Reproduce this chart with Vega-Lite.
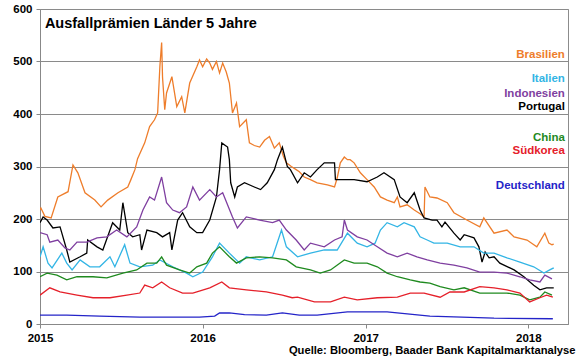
{
  "$schema": "https://vega.github.io/schema/vega-lite/v6.json",
  "width": 528,
  "height": 315,
  "autosize": {"type": "none"},
  "padding": {"left": 40, "top": 9, "right": 12, "bottom": 34},
  "background": "white",
  "config": {
    "font": "Liberation Sans",
    "view": {"stroke": "#8c8c8c", "strokeWidth": 1}
  },
  "datasets": {
    "series": [
      {"d":"2015-01-01","s":"Brasilien","v":217},{"d":"2015-01-03","s":"Brasilien","v":221},{"d":"2015-01-12","s":"Brasilien","v":205},{"d":"2015-01-26","s":"Brasilien","v":202},{"d":"2015-02-10","s":"Brasilien","v":242},{"d":"2015-03-05","s":"Brasilien","v":252},{"d":"2015-03-16","s":"Brasilien","v":303},{"d":"2015-03-27","s":"Brasilien","v":288},{"d":"2015-04-12","s":"Brasilien","v":250},{"d":"2015-05-04","s":"Brasilien","v":236},{"d":"2015-05-18","s":"Brasilien","v":223},{"d":"2015-06-02","s":"Brasilien","v":236},{"d":"2015-06-25","s":"Brasilien","v":250},{"d":"2015-07-17","s":"Brasilien","v":261},{"d":"2015-07-24","s":"Brasilien","v":275},{"d":"2015-08-02","s":"Brasilien","v":294},{"d":"2015-08-08","s":"Brasilien","v":315},{"d":"2015-08-24","s":"Brasilien","v":345},{"d":"2015-09-04","s":"Brasilien","v":376},{"d":"2015-09-15","s":"Brasilien","v":389},{"d":"2015-09-22","s":"Brasilien","v":402},{"d":"2015-09-27","s":"Brasilien","v":490},{"d":"2015-10-01","s":"Brasilien","v":536},{"d":"2015-10-03","s":"Brasilien","v":470},{"d":"2015-10-08","s":"Brasilien","v":408},{"d":"2015-10-12","s":"Brasilien","v":440},{"d":"2015-10-24","s":"Brasilien","v":471},{"d":"2015-11-04","s":"Brasilien","v":414},{"d":"2015-11-15","s":"Brasilien","v":433},{"d":"2015-11-22","s":"Brasilien","v":402},{"d":"2015-12-03","s":"Brasilien","v":459},{"d":"2015-12-19","s":"Brasilien","v":490},{"d":"2015-12-25","s":"Brasilien","v":503},{"d":"2016-01-01","s":"Brasilien","v":490},{"d":"2016-01-10","s":"Brasilien","v":505},{"d":"2016-01-17","s":"Brasilien","v":497},{"d":"2016-01-23","s":"Brasilien","v":485},{"d":"2016-02-01","s":"Brasilien","v":500},{"d":"2016-02-08","s":"Brasilien","v":478},{"d":"2016-02-15","s":"Brasilien","v":497},{"d":"2016-02-23","s":"Brasilien","v":480},{"d":"2016-03-01","s":"Brasilien","v":459},{"d":"2016-03-08","s":"Brasilien","v":402},{"d":"2016-03-17","s":"Brasilien","v":421},{"d":"2016-03-24","s":"Brasilien","v":376},{"d":"2016-04-08","s":"Brasilien","v":389},{"d":"2016-04-15","s":"Brasilien","v":345},{"d":"2016-04-26","s":"Brasilien","v":340},{"d":"2016-05-08","s":"Brasilien","v":337},{"d":"2016-05-19","s":"Brasilien","v":350},{"d":"2016-05-30","s":"Brasilien","v":357},{"d":"2016-06-10","s":"Brasilien","v":335},{"d":"2016-06-21","s":"Brasilien","v":345},{"d":"2016-06-30","s":"Brasilien","v":320},{"d":"2016-07-07","s":"Brasilien","v":307},{"d":"2016-07-18","s":"Brasilien","v":300},{"d":"2016-07-29","s":"Brasilien","v":294},{"d":"2016-08-05","s":"Brasilien","v":290},{"d":"2016-08-16","s":"Brasilien","v":280},{"d":"2016-08-30","s":"Brasilien","v":275},{"d":"2016-09-14","s":"Brasilien","v":269},{"d":"2016-10-07","s":"Brasilien","v":265},{"d":"2016-10-23","s":"Brasilien","v":261},{"d":"2016-10-29","s":"Brasilien","v":278},{"d":"2016-11-05","s":"Brasilien","v":307},{"d":"2016-11-14","s":"Brasilien","v":318},{"d":"2016-11-21","s":"Brasilien","v":313},{"d":"2016-11-27","s":"Brasilien","v":313},{"d":"2016-12-06","s":"Brasilien","v":307},{"d":"2016-12-20","s":"Brasilien","v":288},{"d":"2017-01-04","s":"Brasilien","v":275},{"d":"2017-01-20","s":"Brasilien","v":261},{"d":"2017-02-03","s":"Brasilien","v":242},{"d":"2017-02-18","s":"Brasilien","v":236},{"d":"2017-03-06","s":"Brasilien","v":231},{"d":"2017-03-13","s":"Brasilien","v":242},{"d":"2017-03-19","s":"Brasilien","v":223},{"d":"2017-04-04","s":"Brasilien","v":227},{"d":"2017-04-20","s":"Brasilien","v":217},{"d":"2017-05-03","s":"Brasilien","v":210},{"d":"2017-05-12","s":"Brasilien","v":204},{"d":"2017-05-14","s":"Brasilien","v":261},{"d":"2017-05-25","s":"Brasilien","v":242},{"d":"2017-06-10","s":"Brasilien","v":240},{"d":"2017-07-03","s":"Brasilien","v":231},{"d":"2017-07-18","s":"Brasilien","v":212},{"d":"2017-08-16","s":"Brasilien","v":198},{"d":"2017-09-14","s":"Brasilien","v":185},{"d":"2017-09-23","s":"Brasilien","v":202},{"d":"2017-10-16","s":"Brasilien","v":173},{"d":"2017-11-14","s":"Brasilien","v":179},{"d":"2017-11-30","s":"Brasilien","v":166},{"d":"2017-12-29","s":"Brasilien","v":160},{"d":"2018-01-20","s":"Brasilien","v":147},{"d":"2018-02-07","s":"Brasilien","v":173},{"d":"2018-02-16","s":"Brasilien","v":154},{"d":"2018-02-23","s":"Brasilien","v":151},{"d":"2018-02-27","s":"Brasilien","v":152},

      {"d":"2015-01-01","s":"Portugal","v":193},{"d":"2015-01-08","s":"Portugal","v":204},{"d":"2015-01-17","s":"Portugal","v":198},{"d":"2015-01-30","s":"Portugal","v":183},{"d":"2015-02-15","s":"Portugal","v":185},{"d":"2015-03-02","s":"Portugal","v":141},{"d":"2015-03-09","s":"Portugal","v":118},{"d":"2015-04-01","s":"Portugal","v":128},{"d":"2015-04-16","s":"Portugal","v":135},{"d":"2015-04-18","s":"Portugal","v":160},{"d":"2015-05-09","s":"Portugal","v":147},{"d":"2015-05-22","s":"Portugal","v":141},{"d":"2015-06-13","s":"Portugal","v":193},{"d":"2015-06-29","s":"Portugal","v":179},{"d":"2015-07-06","s":"Portugal","v":231},{"d":"2015-07-17","s":"Portugal","v":174},{"d":"2015-07-28","s":"Portugal","v":166},{"d":"2015-08-13","s":"Portugal","v":170},{"d":"2015-08-17","s":"Portugal","v":141},{"d":"2015-08-29","s":"Portugal","v":179},{"d":"2015-09-20","s":"Portugal","v":174},{"d":"2015-10-03","s":"Portugal","v":166},{"d":"2015-10-19","s":"Portugal","v":174},{"d":"2015-10-24","s":"Portugal","v":141},{"d":"2015-11-06","s":"Portugal","v":198},{"d":"2015-11-17","s":"Portugal","v":212},{"d":"2015-12-03","s":"Portugal","v":185},{"d":"2015-12-19","s":"Portugal","v":174},{"d":"2016-01-01","s":"Portugal","v":174},{"d":"2016-01-17","s":"Portugal","v":198},{"d":"2016-02-01","s":"Portugal","v":242},{"d":"2016-02-08","s":"Portugal","v":294},{"d":"2016-02-13","s":"Portugal","v":345},{"d":"2016-02-21","s":"Portugal","v":340},{"d":"2016-02-26","s":"Portugal","v":337},{"d":"2016-03-01","s":"Portugal","v":313},{"d":"2016-03-04","s":"Portugal","v":269},{"d":"2016-03-13","s":"Portugal","v":242},{"d":"2016-03-19","s":"Portugal","v":261},{"d":"2016-04-04","s":"Portugal","v":269},{"d":"2016-04-26","s":"Portugal","v":261},{"d":"2016-05-10","s":"Portugal","v":256},{"d":"2016-05-25","s":"Portugal","v":269},{"d":"2016-06-10","s":"Portugal","v":294},{"d":"2016-06-17","s":"Portugal","v":313},{"d":"2016-06-28","s":"Portugal","v":337},{"d":"2016-07-09","s":"Portugal","v":300},{"d":"2016-07-16","s":"Portugal","v":294},{"d":"2016-08-01","s":"Portugal","v":269},{"d":"2016-08-16","s":"Portugal","v":288},{"d":"2016-08-30","s":"Portugal","v":280},{"d":"2016-09-14","s":"Portugal","v":294},{"d":"2016-09-30","s":"Portugal","v":307},{"d":"2016-10-23","s":"Portugal","v":307},{"d":"2016-10-25","s":"Portugal","v":275},{"d":"2016-12-06","s":"Portugal","v":275},{"d":"2017-01-04","s":"Portugal","v":271},{"d":"2017-01-27","s":"Portugal","v":280},{"d":"2017-02-11","s":"Portugal","v":288},{"d":"2017-03-06","s":"Portugal","v":275},{"d":"2017-03-19","s":"Portugal","v":242},{"d":"2017-04-04","s":"Portugal","v":231},{"d":"2017-04-20","s":"Portugal","v":250},{"d":"2017-05-03","s":"Portugal","v":217},{"d":"2017-05-12","s":"Portugal","v":202},{"d":"2017-05-30","s":"Portugal","v":198},{"d":"2017-06-10","s":"Portugal","v":198},{"d":"2017-06-21","s":"Portugal","v":185},{"d":"2017-06-28","s":"Portugal","v":194},{"d":"2017-07-18","s":"Portugal","v":173},{"d":"2017-08-01","s":"Portugal","v":160},{"d":"2017-08-10","s":"Portugal","v":170},{"d":"2017-09-01","s":"Portugal","v":164},{"d":"2017-09-12","s":"Portugal","v":147},{"d":"2017-09-19","s":"Portugal","v":118},{"d":"2017-09-26","s":"Portugal","v":137},{"d":"2017-10-05","s":"Portugal","v":126},{"d":"2017-10-16","s":"Portugal","v":128},{"d":"2017-10-29","s":"Portugal","v":116},{"d":"2017-11-30","s":"Portugal","v":103},{"d":"2017-12-22","s":"Portugal","v":90},{"d":"2018-01-13","s":"Portugal","v":74},{"d":"2018-01-27","s":"Portugal","v":65},{"d":"2018-02-11","s":"Portugal","v":69},{"d":"2018-02-27","s":"Portugal","v":69},

      {"d":"2015-01-01","s":"Italien","v":128},{"d":"2015-01-08","s":"Italien","v":147},{"d":"2015-01-19","s":"Italien","v":116},{"d":"2015-01-28","s":"Italien","v":107},{"d":"2015-02-19","s":"Italien","v":135},{"d":"2015-03-02","s":"Italien","v":116},{"d":"2015-03-14","s":"Italien","v":103},{"d":"2015-04-01","s":"Italien","v":122},{"d":"2015-04-23","s":"Italien","v":109},{"d":"2015-05-15","s":"Italien","v":109},{"d":"2015-06-07","s":"Italien","v":128},{"d":"2015-06-18","s":"Italien","v":109},{"d":"2015-07-10","s":"Italien","v":151},{"d":"2015-07-22","s":"Italien","v":116},{"d":"2015-08-13","s":"Italien","v":109},{"d":"2015-09-11","s":"Italien","v":112},{"d":"2015-09-27","s":"Italien","v":122},{"d":"2015-10-26","s":"Italien","v":109},{"d":"2015-11-26","s":"Italien","v":97},{"d":"2015-12-10","s":"Italien","v":90},{"d":"2016-01-01","s":"Italien","v":99},{"d":"2016-01-23","s":"Italien","v":128},{"d":"2016-02-08","s":"Italien","v":154},{"d":"2016-03-01","s":"Italien","v":135},{"d":"2016-03-24","s":"Italien","v":116},{"d":"2016-04-08","s":"Italien","v":128},{"d":"2016-05-08","s":"Italien","v":122},{"d":"2016-06-06","s":"Italien","v":128},{"d":"2016-06-26","s":"Italien","v":179},{"d":"2016-07-07","s":"Italien","v":147},{"d":"2016-08-01","s":"Italien","v":128},{"d":"2016-08-30","s":"Italien","v":135},{"d":"2016-09-30","s":"Italien","v":141},{"d":"2016-10-29","s":"Italien","v":141},{"d":"2016-11-21","s":"Italien","v":173},{"d":"2016-12-13","s":"Italien","v":154},{"d":"2017-01-04","s":"Italien","v":147},{"d":"2017-01-22","s":"Italien","v":154},{"d":"2017-02-03","s":"Italien","v":179},{"d":"2017-02-18","s":"Italien","v":193},{"d":"2017-03-13","s":"Italien","v":185},{"d":"2017-03-28","s":"Italien","v":193},{"d":"2017-04-20","s":"Italien","v":185},{"d":"2017-05-03","s":"Italien","v":166},{"d":"2017-05-19","s":"Italien","v":160},{"d":"2017-06-03","s":"Italien","v":154},{"d":"2017-07-03","s":"Italien","v":154},{"d":"2017-08-01","s":"Italien","v":147},{"d":"2017-09-01","s":"Italien","v":147},{"d":"2017-09-23","s":"Italien","v":135},{"d":"2017-10-16","s":"Italien","v":135},{"d":"2017-11-14","s":"Italien","v":126},{"d":"2017-12-13","s":"Italien","v":118},{"d":"2018-01-13","s":"Italien","v":109},{"d":"2018-02-05","s":"Italien","v":97},{"d":"2018-02-18","s":"Italien","v":103},{"d":"2018-02-27","s":"Italien","v":107},

      {"d":"2015-01-01","s":"Indonesien","v":174},{"d":"2015-01-17","s":"Indonesien","v":170},{"d":"2015-01-23","s":"Indonesien","v":156},{"d":"2015-02-10","s":"Indonesien","v":160},{"d":"2015-02-26","s":"Indonesien","v":145},{"d":"2015-03-09","s":"Indonesien","v":141},{"d":"2015-03-25","s":"Indonesien","v":156},{"d":"2015-04-16","s":"Indonesien","v":156},{"d":"2015-05-09","s":"Indonesien","v":164},{"d":"2015-05-31","s":"Indonesien","v":166},{"d":"2015-06-22","s":"Indonesien","v":179},{"d":"2015-07-15","s":"Indonesien","v":166},{"d":"2015-08-06","s":"Indonesien","v":185},{"d":"2015-08-20","s":"Indonesien","v":217},{"d":"2015-09-04","s":"Indonesien","v":242},{"d":"2015-09-15","s":"Indonesien","v":236},{"d":"2015-10-01","s":"Indonesien","v":280},{"d":"2015-10-12","s":"Indonesien","v":231},{"d":"2015-10-26","s":"Indonesien","v":217},{"d":"2015-11-10","s":"Indonesien","v":212},{"d":"2015-11-26","s":"Indonesien","v":223},{"d":"2015-12-10","s":"Indonesien","v":261},{"d":"2015-12-25","s":"Indonesien","v":236},{"d":"2016-01-17","s":"Indonesien","v":256},{"d":"2016-02-01","s":"Indonesien","v":242},{"d":"2016-02-15","s":"Indonesien","v":250},{"d":"2016-03-08","s":"Indonesien","v":204},{"d":"2016-03-19","s":"Indonesien","v":183},{"d":"2016-04-08","s":"Indonesien","v":204},{"d":"2016-05-08","s":"Indonesien","v":198},{"d":"2016-06-06","s":"Indonesien","v":193},{"d":"2016-06-21","s":"Indonesien","v":198},{"d":"2016-07-07","s":"Indonesien","v":179},{"d":"2016-07-29","s":"Indonesien","v":160},{"d":"2016-08-16","s":"Indonesien","v":141},{"d":"2016-08-30","s":"Indonesien","v":154},{"d":"2016-09-30","s":"Indonesien","v":147},{"d":"2016-10-23","s":"Indonesien","v":160},{"d":"2016-11-09","s":"Indonesien","v":166},{"d":"2016-11-14","s":"Indonesien","v":198},{"d":"2016-11-21","s":"Indonesien","v":179},{"d":"2016-12-13","s":"Indonesien","v":166},{"d":"2017-01-04","s":"Indonesien","v":160},{"d":"2017-01-27","s":"Indonesien","v":147},{"d":"2017-02-18","s":"Indonesien","v":135},{"d":"2017-03-13","s":"Indonesien","v":128},{"d":"2017-04-04","s":"Indonesien","v":135},{"d":"2017-04-26","s":"Indonesien","v":128},{"d":"2017-05-19","s":"Indonesien","v":122},{"d":"2017-06-17","s":"Indonesien","v":116},{"d":"2017-07-18","s":"Indonesien","v":112},{"d":"2017-08-16","s":"Indonesien","v":107},{"d":"2017-09-14","s":"Indonesien","v":99},{"d":"2017-10-16","s":"Indonesien","v":99},{"d":"2017-11-14","s":"Indonesien","v":97},{"d":"2017-12-13","s":"Indonesien","v":90},{"d":"2018-01-04","s":"Indonesien","v":84},{"d":"2018-01-27","s":"Indonesien","v":80},{"d":"2018-02-07","s":"Indonesien","v":93},{"d":"2018-02-23","s":"Indonesien","v":86},

      {"d":"2015-01-01","s":"China","v":90},{"d":"2015-01-17","s":"China","v":97},{"d":"2015-02-08","s":"China","v":93},{"d":"2015-03-02","s":"China","v":84},{"d":"2015-03-25","s":"China","v":90},{"d":"2015-04-30","s":"China","v":90},{"d":"2015-05-31","s":"China","v":88},{"d":"2015-07-06","s":"China","v":97},{"d":"2015-08-06","s":"China","v":103},{"d":"2015-08-29","s":"China","v":116},{"d":"2015-09-20","s":"China","v":116},{"d":"2015-10-01","s":"China","v":128},{"d":"2015-10-12","s":"China","v":112},{"d":"2015-11-10","s":"China","v":103},{"d":"2015-12-03","s":"China","v":97},{"d":"2015-12-19","s":"China","v":109},{"d":"2016-01-10","s":"China","v":116},{"d":"2016-01-23","s":"China","v":135},{"d":"2016-02-08","s":"China","v":147},{"d":"2016-03-01","s":"China","v":128},{"d":"2016-03-17","s":"China","v":116},{"d":"2016-04-08","s":"China","v":126},{"d":"2016-05-08","s":"China","v":128},{"d":"2016-06-06","s":"China","v":126},{"d":"2016-07-07","s":"China","v":122},{"d":"2016-07-29","s":"China","v":109},{"d":"2016-08-30","s":"China","v":103},{"d":"2016-09-21","s":"China","v":97},{"d":"2016-10-14","s":"China","v":103},{"d":"2016-11-14","s":"China","v":122},{"d":"2016-12-06","s":"China","v":116},{"d":"2017-01-04","s":"China","v":116},{"d":"2017-01-27","s":"China","v":109},{"d":"2017-02-18","s":"China","v":97},{"d":"2017-03-13","s":"China","v":90},{"d":"2017-04-11","s":"China","v":84},{"d":"2017-05-03","s":"China","v":80},{"d":"2017-05-25","s":"China","v":78},{"d":"2017-06-17","s":"China","v":71},{"d":"2017-07-18","s":"China","v":65},{"d":"2017-08-10","s":"China","v":69},{"d":"2017-09-14","s":"China","v":59},{"d":"2017-10-16","s":"China","v":59},{"d":"2017-11-14","s":"China","v":59},{"d":"2017-12-13","s":"China","v":55},{"d":"2018-01-04","s":"China","v":46},{"d":"2018-01-27","s":"China","v":51},{"d":"2018-02-07","s":"China","v":61},{"d":"2018-02-23","s":"China","v":55},

      {"d":"2015-01-01","s":"Südkorea","v":55},{"d":"2015-01-23","s":"Südkorea","v":69},{"d":"2015-02-15","s":"Südkorea","v":61},{"d":"2015-03-25","s":"Südkorea","v":55},{"d":"2015-04-30","s":"Südkorea","v":50},{"d":"2015-06-07","s":"Südkorea","v":50},{"d":"2015-07-15","s":"Südkorea","v":55},{"d":"2015-08-13","s":"Südkorea","v":59},{"d":"2015-08-24","s":"Südkorea","v":74},{"d":"2015-09-11","s":"Südkorea","v":69},{"d":"2015-10-01","s":"Südkorea","v":80},{"d":"2015-10-19","s":"Südkorea","v":69},{"d":"2015-11-17","s":"Südkorea","v":59},{"d":"2015-12-10","s":"Südkorea","v":59},{"d":"2016-01-17","s":"Südkorea","v":69},{"d":"2016-02-13","s":"Südkorea","v":80},{"d":"2016-03-01","s":"Südkorea","v":69},{"d":"2016-04-08","s":"Südkorea","v":65},{"d":"2016-05-23","s":"Südkorea","v":61},{"d":"2016-06-28","s":"Südkorea","v":55},{"d":"2016-07-20","s":"Südkorea","v":50},{"d":"2016-08-01","s":"Südkorea","v":51},{"d":"2016-09-08","s":"Südkorea","v":42},{"d":"2016-10-14","s":"Südkorea","v":42},{"d":"2016-11-14","s":"Südkorea","v":51},{"d":"2016-12-13","s":"Südkorea","v":46},{"d":"2017-01-27","s":"Südkorea","v":50},{"d":"2017-03-13","s":"Südkorea","v":51},{"d":"2017-04-11","s":"Südkorea","v":59},{"d":"2017-05-12","s":"Südkorea","v":59},{"d":"2017-06-17","s":"Südkorea","v":51},{"d":"2017-07-09","s":"Südkorea","v":61},{"d":"2017-08-10","s":"Südkorea","v":61},{"d":"2017-09-14","s":"Südkorea","v":71},{"d":"2017-10-16","s":"Südkorea","v":69},{"d":"2017-11-14","s":"Südkorea","v":65},{"d":"2017-12-13","s":"Südkorea","v":59},{"d":"2018-01-04","s":"Südkorea","v":42},{"d":"2018-01-27","s":"Südkorea","v":50},{"d":"2018-02-11","s":"Südkorea","v":55},{"d":"2018-02-25","s":"Südkorea","v":51},

      {"d":"2015-01-01","s":"Deutschland","v":17},{"d":"2015-03-02","s":"Deutschland","v":17},{"d":"2015-05-15","s":"Deutschland","v":15},{"d":"2015-08-13","s":"Deutschland","v":13},{"d":"2015-12-25","s":"Deutschland","v":13},{"d":"2016-01-28","s":"Deutschland","v":15},{"d":"2016-02-08","s":"Deutschland","v":21},{"d":"2016-03-01","s":"Deutschland","v":21},{"d":"2016-04-04","s":"Deutschland","v":18},{"d":"2016-05-23","s":"Deutschland","v":17},{"d":"2016-06-28","s":"Deutschland","v":21},{"d":"2016-08-05","s":"Deutschland","v":17},{"d":"2016-09-14","s":"Deutschland","v":17},{"d":"2016-11-21","s":"Deutschland","v":23},{"d":"2017-02-18","s":"Deutschland","v":23},{"d":"2017-05-25","s":"Deutschland","v":15},{"d":"2017-10-16","s":"Deutschland","v":11},{"d":"2018-02-25","s":"Deutschland","v":10}
    ],
    "labels": [
      {"d":"2018-03-24","v":512,"s":"Brasilien"},
      {"d":"2018-03-24","v":467,"s":"Italien"},
      {"d":"2018-03-24","v":438,"s":"Indonesien"},
      {"d":"2018-03-24","v":413,"s":"Portugal"},
      {"d":"2018-03-24","v":354,"s":"China"},
      {"d":"2018-03-24","v":330,"s":"Südkorea"},
      {"d":"2018-03-24","v":263,"s":"Deutschland"}
    ],
    "heading": [
      {"d":"2015-01-12","v":571,"t":"Ausfallprämien Länder 5 Jahre"}
    ]
  },
  "encoding": {
    "x": {
      "field": "d",
      "type": "temporal",
      "scale": {"type": "utc", "domain": [{"year": 2015, "month": 1, "date": 1, "utc": true}, {"year": 2018, "month": 3, "date": 31, "utc": true}]},
      "axis": {
        "title": "Quelle: Bloomberg, Baader Bank Kapitalmarktanalyse",
        "titleFontSize": 11.2,
        "titleFontWeight": "bold",
        "titleColor": "#000000",
        "titleAnchor": "end",
        "titleAlign": "right",
        "titleBaseline": "middle",
        "titleX": 535,
        "titleY": 26,
        "format": "%Y",
        "tickCount": {"interval": "year", "step": 1},
        "grid": false,
        "domainColor": "#888888",
        "tickColor": "#888888",
        "tickSize": 4,
        "labelPadding": 4,
        "labelFontSize": 11.5,
        "labelFontWeight": "bold",
        "labelColor": "#000000",
        "labelFlush": false
      }
    },
    "y": {
      "field": "v",
      "type": "quantitative",
      "scale": {"domain": [0, 600]},
      "axis": {
        "title": null,
        "values": [0, 100, 200, 300, 400, 500, 600],
        "grid": true,
        "gridColor": "#8a8a8a",
        "gridWidth": 1,
        "domainColor": "#888888",
        "tickColor": "#888888",
        "tickSize": 4,
        "labelPadding": 4,
        "labelFontSize": 11.5,
        "labelFontWeight": "bold",
        "labelColor": "#000000"
      }
    }
  },
  "layer": [
    {
      "data": {"name": "series"},
      "mark": {"type": "line", "strokeWidth": 1.3, "clip": true},
      "encoding": {
        "color": {
          "field": "s",
          "type": "nominal",
          "scale": {
            "domain": ["Deutschland", "Südkorea", "China", "Indonesien", "Italien", "Brasilien", "Portugal"],
            "range": ["#2424C8", "#E5202A", "#1F8A1F", "#7F3FA0", "#33B5E5", "#EE7D2B", "#000000"]
          },
          "legend": null
        },
        "detail": {"field": "s"}
      }
    },
    {
      "data": {"name": "labels"},
      "mark": {"type": "text", "align": "right", "baseline": "middle", "fontSize": 11.5, "fontWeight": "bold"},
      "encoding": {
        "text": {"field": "s"},
        "color": {"field": "s", "type": "nominal", "legend": null}
      }
    },
    {
      "data": {"name": "heading"},
      "mark": {"type": "text", "align": "left", "baseline": "middle", "fontSize": 14.5, "fontWeight": "bold", "color": "#000000"},
      "encoding": {
        "text": {"field": "t"}
      }
    }
  ]
}
